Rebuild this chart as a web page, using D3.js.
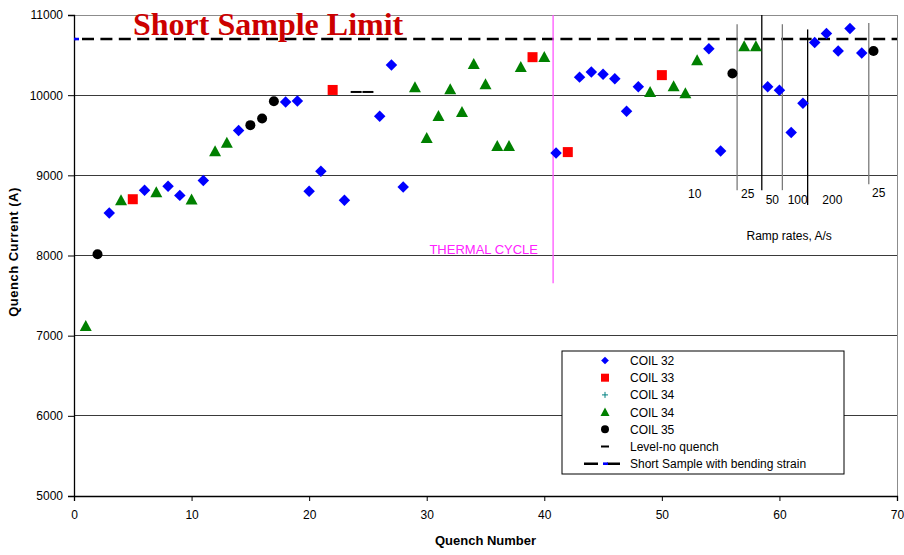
<!DOCTYPE html>
<html>
<head>
<meta charset="utf-8">
<script src="https://cdn.jsdelivr.net/npm/d3@7"></script>
<style>
  html, body { margin: 0; padding: 0; background: #fff; }
  svg { display: block; font-family: Arial, "Liberation Sans", sans-serif; }
</style>
</head>
<body>
<svg id="chart" width="904" height="555"></svg>
<script>
// Quench history: current (A) versus quench number for each coil
const coil32N = [3, 6, 8, 9, 11, 14, 18, 19, 20, 21, 23, 26, 27, 28, 41, 43, 44, 45, 46, 47, 48, 54, 55, 59, 60, 61, 62, 63, 64, 65, 66, 67];
const coil32I = [8530, 8815, 8865, 8750, 8935, 9558, 9915, 9927, 8802, 9050, 8690, 9738, 10375, 8855, 9280, 10225, 10290, 10262, 10205, 9800, 10105, 10580, 9305, 10105, 10060, 9535, 9900, 10657, 10770, 10552, 10832, 10527];

const coil33N = [5, 22, 39, 42, 50];
const coil33I = [8702, 10065, 10474, 9290, 10250];

const coil34N = [1, 4, 7, 10, 12, 13, 29, 30, 31, 32, 33, 34, 35, 36, 37, 38, 40, 49, 51, 52, 53, 57, 58];
const coil34I = [7120, 8690, 8790, 8700, 9300, 9408, 10100, 9465, 9740, 10075, 9790, 10390, 10135, 9365, 9365, 10350, 10475, 10040, 10110, 10025, 10435, 10610, 10610];

const coil35N = [2, 15, 16, 17, 56, 68];
const coil35I = [8016, 9626, 9709, 9925, 10270, 10550];

// Ramp held at current without quench
const levelN = [24, 25];
const levelI = [10040, 10040];

// Short sample limit including bending strain
const shortN = [0, 70];
const shortI = [10700, 10700];

// Thermal cycle marker
const thermalN = 40.75;
const thermalI = [11000, 7655];

// Ramp-rate boundaries and labels
const rampN = [56.4, 58.5, 60.25, 62.4, 67.6];
const rampTop = [10885, 11000, 10885, 10820, 10900];
const rampBottom = [8815, 8815, 8815, 8630, 8890];
const rampDark = [false, true, false, true, false];
const rampLabels = ["10", "25", "50", "100", "200", "25"];
const rampLabelN = [52.8, 57.3, 59.4, 61.55, 64.5, 68.45];
const rampLabelI = [8722, 8722, 8648, 8648, 8648, 8728];

const xTicks = [0, 10, 20, 30, 40, 50, 60, 70];
const yTicks = [5000, 6000, 7000, 8000, 9000, 10000, 11000];

const legendLabels = ["COIL 32", "COIL 33", "COIL 34", "COIL 34", "COIL 35", "Level-no quench", "Short Sample with bending strain"];

const svg = d3.select("#chart");
const pL = 74, pR = 897, pT = 15, pB = 496;

const x = d3.scaleLinear().domain([0, 70]).range([pL, pR]);
const y = d3.scaleLinear().domain([5000, 11000]).range([pB, pT]);

svg.append("defs").append("clipPath").attr("id", "plot")
  .append("rect").attr("x", pL).attr("y", pT).attr("width", pR - pL).attr("height", pB - pT);

// horizontal grid
svg.append("g").selectAll("line")
  .data(yTicks.filter(v => v > 5000 && v < 11000))
  .join("line")
  .attr("x1", pL).attr("x2", pR)
  .attr("y1", d => y(d)).attr("y2", d => y(d))
  .attr("stroke", "#3a3a3a").attr("stroke-width", 1).attr("shape-rendering", "crispEdges");

// frame: gray top and right
svg.append("path")
  .attr("d", `M${pL},${y(11000)}H${pR}V${pB}`)
  .attr("fill", "none").attr("stroke", "#8c8c8c").attr("stroke-width", 1).attr("shape-rendering", "crispEdges");

// axes
const xAxis = svg.append("g").attr("transform", `translate(0,${pB})`)
  .call(d3.axisBottom(x).tickValues(xTicks).tickSize(5).tickPadding(9).tickFormat(d3.format("d")));
const yAxis = svg.append("g").attr("transform", `translate(${pL},0)`)
  .call(d3.axisLeft(y).tickValues(yTicks).tickSize(6).tickPadding(5).tickFormat(d3.format("d")));
[xAxis, yAxis].forEach(g => {
  g.select(".domain").attr("stroke", "#000").attr("stroke-width", 1.3);
  g.selectAll(".tick line").attr("stroke", "#000");
  g.selectAll("text").attr("font-size", 12).attr("fill", "#000").attr("font-family", "Arial, 'Liberation Sans', sans-serif");
});

// axis titles
svg.append("text")
  .attr("x", (pL + pR) / 2).attr("y", 545)
  .attr("text-anchor", "middle").attr("font-weight", "bold").attr("font-size", 13)
  .text("Quench Number");
svg.append("text")
  .attr("transform", "translate(18,252) rotate(-90)")
  .attr("text-anchor", "middle").attr("font-weight", "bold").attr("font-size", 13)
  .attr("letter-spacing", 0.5)
  .text("Quench Current (A)");

const plot = svg.append("g").attr("clip-path", "url(#plot)");

// short sample limit line, with its marker at the first point
const line = d3.line().x(d => x(d[0])).y(d => y(d[1]));
const shortPts = shortN.map((n, i) => [n, shortI[i]]);
plot.append("path")
  .datum(shortPts)
  .attr("d", line)
  .attr("fill", "none").attr("stroke", "#000").attr("stroke-width", 2.6)
  .attr("stroke-dasharray", "12,6.4").attr("stroke-dashoffset", -8);
plot.append("g").selectAll("line")
  .data(shortPts.slice(0, 1))
  .join("line")
  .attr("x1", d => x(d[0]) - 5).attr("x2", d => x(d[0]) + 5)
  .attr("y1", d => y(d[1])).attr("y2", d => y(d[1]))
  .attr("stroke", "#0000ff").attr("stroke-width", 2.6);

// title inside the plot
svg.append("text")
  .attr("x", x(5.02)).attr("y", y(10745))
  .attr("font-family", "'Liberation Serif', 'Times New Roman', serif")
  .attr("font-weight", "bold").attr("font-size", 32).attr("fill", "#cc0000")
  .text("Short Sample Limit");

// thermal cycle
svg.append("line")
  .attr("x1", x(thermalN)).attr("x2", x(thermalN))
  .attr("y1", y(thermalI[0])).attr("y2", y(thermalI[1]))
  .attr("stroke", "#ff55ff").attr("stroke-width", 1.3);
svg.append("text")
  .attr("x", x(34.85)).attr("y", y(8017))
  .attr("text-anchor", "middle").attr("font-size", 13).attr("fill", "#ff22ff")
  .text("THERMAL CYCLE");

// ramp-rate boundaries
svg.append("g").selectAll("line")
  .data(rampN.map((n, i) => ({ n, t: rampTop[i], b: rampBottom[i], dark: rampDark[i] })))
  .join("line")
  .attr("x1", d => x(d.n)).attr("x2", d => x(d.n))
  .attr("y1", d => y(d.t)).attr("y2", d => y(d.b))
  .attr("stroke", d => d.dark ? "#000" : "#7a7a7a").attr("stroke-width", 1.3);
svg.append("g").selectAll("text")
  .data(rampLabels.map((t, i) => ({ t, n: rampLabelN[i], v: rampLabelI[i] })))
  .join("text")
  .attr("x", d => x(d.n)).attr("y", d => y(d.v))
  .attr("text-anchor", "middle").attr("font-size", 12).attr("fill", "#000")
  .text(d => d.t);
svg.append("text")
  .attr("x", x(60.83)).attr("y", y(8198))
  .attr("text-anchor", "middle").attr("font-size", 12).attr("fill", "#000")
  .text("Ramp rates, A/s");

// markers
const pairs = (N, I) => N.map((n, i) => [n, I[i]]);

svg.append("g").selectAll("line")
  .data(pairs(levelN, levelI)).join("line")
  .attr("x1", d => x(d[0]) - 5.5).attr("x2", d => x(d[0]) + 5.5)
  .attr("y1", d => y(d[1])).attr("y2", d => y(d[1]))
  .attr("stroke", "#000").attr("stroke-width", 2);

svg.append("g").selectAll("path")
  .data(pairs(coil32N, coil32I)).join("path")
  .attr("transform", d => `translate(${x(d[0])},${y(d[1])}) rotate(45)`)
  .attr("d", d3.symbol().type(d3.symbolSquare).size(66))
  .attr("fill", "#0000ff");

svg.append("g").selectAll("rect")
  .data(pairs(coil33N, coil33I)).join("rect")
  .attr("x", d => x(d[0]) - 5).attr("y", d => y(d[1]) - 5)
  .attr("width", 10).attr("height", 10)
  .attr("fill", "#ff0000");

svg.append("g").selectAll("path")
  .data(pairs(coil34N, coil34I)).join("path")
  .attr("transform", d => `translate(${x(d[0])},${y(d[1])})`)
  .attr("d", "M0,-6L6,5H-6Z")
  .attr("fill", "#008000");

svg.append("g").selectAll("circle")
  .data(pairs(coil35N, coil35I)).join("circle")
  .attr("cx", d => x(d[0])).attr("cy", d => y(d[1])).attr("r", 5)
  .attr("fill", "#000");

// legend
const lg = svg.append("g").attr("transform", "translate(562,351)");
lg.append("rect").attr("width", 282).attr("height", 123)
  .attr("fill", "#fff").attr("stroke", "#000").attr("stroke-width", 1);
const rowY = i => 9.5 + i * 17.2;
const mx = 43, tx = 68;
lg.selectAll("text").data(legendLabels).join("text")
  .attr("x", tx).attr("y", (d, i) => rowY(i) + 4.5)
  .attr("font-size", 12).attr("fill", "#000")
  .text(d => d);
lg.append("path").attr("transform", `translate(${mx},${rowY(0)}) rotate(45)`)
  .attr("d", d3.symbol().type(d3.symbolSquare).size(30)).attr("fill", "#0000ff");
lg.append("rect").attr("x", mx - 4).attr("y", rowY(1) - 4).attr("width", 8).attr("height", 8).attr("fill", "#ff0000");
lg.append("path").attr("transform", `translate(${mx},${rowY(2)})`)
  .attr("d", "M-3,0H3M0,-3V3").attr("stroke", "#008080").attr("stroke-width", 1);
lg.append("path").attr("transform", `translate(${mx},${rowY(3)})`)
  .attr("d", "M0,-4.5L4.5,4H-4.5Z").attr("fill", "#008000");
lg.append("circle").attr("cx", mx).attr("cy", rowY(4)).attr("r", 4).attr("fill", "#000");
lg.append("line").attr("x1", mx - 4).attr("x2", mx + 4).attr("y1", rowY(5)).attr("y2", rowY(5))
  .attr("stroke", "#000").attr("stroke-width", 2);
lg.append("path").attr("d", `M${mx - 21},${rowY(6)}H${mx - 7}M${mx + 2},${rowY(6)}H${mx + 15}`)
  .attr("stroke", "#000").attr("stroke-width", 2.6);
lg.append("line").attr("x1", mx - 2).attr("x2", mx + 3).attr("y1", rowY(6)).attr("y2", rowY(6))
  .attr("stroke", "#0000ff").attr("stroke-width", 2.6);
</script>
</body>
</html>
